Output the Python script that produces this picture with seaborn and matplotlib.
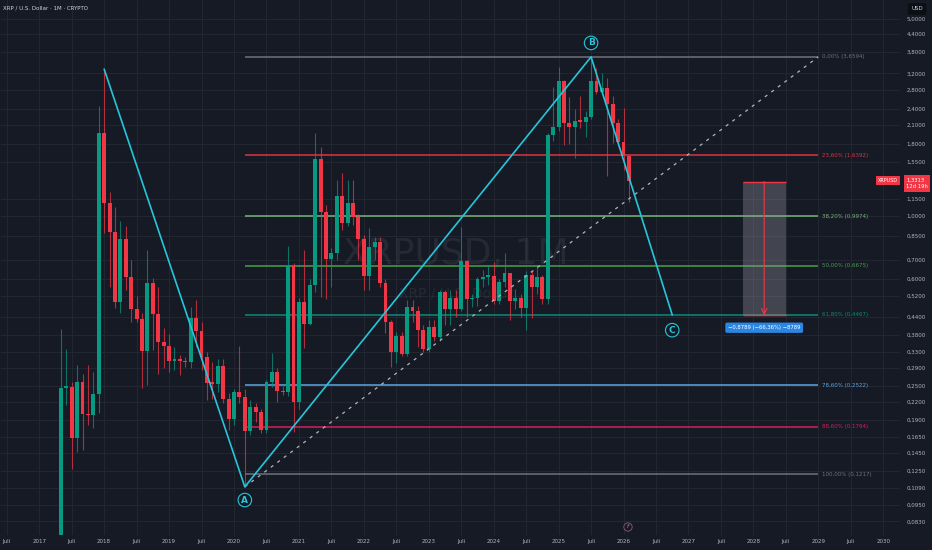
import matplotlib
matplotlib.use("Agg")
import matplotlib.pyplot as plt
from matplotlib.ticker import FixedLocator, FixedFormatter, NullLocator, NullFormatter
import numpy as np
import pandas as pd
import seaborn as sns

BG = "#161a25"
GRID = "#222631"
TXT = "#b2b5be"
UP = "#089981"
DOWN = "#f23645"
CYAN = "#26c6da"

# monthly XRP/USD candles, May 2017 .. Feb 2026
dates = pd.date_range("2017-05-01", "2026-02-01", freq="MS")
opens = [
    0.056, 0.247, 0.249, 0.164, 0.259, 0.199, 0.197, 0.234,
    1.97, 1.11, 0.880, 0.497, 0.829, 0.607, 0.467, 0.432, 0.334, 0.578, 0.449, 0.357,
    0.347, 0.307, 0.311, 0.307, 0.304, 0.437, 0.393, 0.318, 0.257, 0.255, 0.295, 0.226,
    0.192, 0.238, 0.228, 0.174, 0.211, 0.202, 0.175, 0.259, 0.280, 0.241, 0.238, 0.665,
    0.219, 0.495, 0.415, 0.570, 1.587, 1.036, 0.703, 0.742, 1.18, 0.947, 1.11, 0.990,
    0.827, 0.615, 0.779, 0.811, 0.580, 0.420, 0.329, 0.377, 0.325, 0.478, 0.462, 0.395,
    0.337, 0.404, 0.374, 0.537, 0.469, 0.514, 0.469, 0.695, 0.508, 0.514, 0.598, 0.610,
    0.615, 0.500, 0.583, 0.627, 0.500, 0.514, 0.473, 0.618, 0.562, 0.610, 0.507, 1.935,
    2.07, 3.01, 2.13, 2.07, 2.17, 2.16, 2.24, 3.01, 2.75, 2.83, 2.49, 2.14,
    1.83, 1.63,
]
highs = [
    0.397, 0.338, 0.259, 0.297, 0.277, 0.297, 0.280, 2.46,
    3.31, 1.22, 1.08, 0.960, 0.922, 0.699, 0.521, 0.452, 0.758, 0.602, 0.562, 0.400,
    0.381, 0.345, 0.322, 0.318, 0.478, 0.504, 0.420, 0.331, 0.305, 0.313, 0.313, 0.236,
    0.245, 0.347, 0.245, 0.223, 0.217, 0.207, 0.262, 0.327, 0.290, 0.250, 0.783, 0.680,
    0.512, 0.758, 0.600, 1.96, 1.76, 1.094, 0.770, 1.34, 1.42, 1.34, 1.34, 1.02,
    0.860, 0.905, 0.845, 0.845, 0.600, 0.430, 0.389, 0.390, 0.504, 0.504, 0.480, 0.410,
    0.428, 0.428, 0.547, 0.547, 0.547, 0.547, 0.917, 0.700, 0.530, 0.610, 0.644, 0.670,
    0.687, 0.600, 0.738, 0.630, 0.550, 0.530, 0.640, 0.640, 0.660, 0.620, 1.96, 2.87,
    3.38, 3.03, 2.64, 2.40, 2.65, 2.35, 3.66, 3.35, 3.20, 3.07, 2.65, 2.20,
    2.41, 1.65,
]
lows = [
    0.052, 0.214, 0.127, 0.146, 0.148, 0.182, 0.178, 0.200,
    0.868, 0.562, 0.471, 0.452, 0.547, 0.423, 0.423, 0.246, 0.252, 0.336, 0.277, 0.290,
    0.281, 0.285, 0.274, 0.293, 0.290, 0.345, 0.285, 0.223, 0.225, 0.239, 0.217, 0.175,
    0.182, 0.217, 0.110, 0.168, 0.187, 0.171, 0.171, 0.249, 0.220, 0.233, 0.230, 0.172,
    0.208, 0.340, 0.410, 0.540, 0.518, 0.510, 0.560, 0.700, 0.892, 0.920, 0.930, 0.700,
    0.547, 0.547, 0.700, 0.562, 0.384, 0.293, 0.302, 0.320, 0.320, 0.420, 0.345, 0.330,
    0.330, 0.360, 0.360, 0.412, 0.412, 0.440, 0.460, 0.440, 0.475, 0.480, 0.560, 0.570,
    0.490, 0.490, 0.560, 0.428, 0.470, 0.440, 0.395, 0.435, 0.530, 0.490, 0.490, 1.85,
    2.00, 1.78, 1.80, 1.61, 2.05, 1.90, 2.20, 2.70, 2.70, 1.38, 1.82, 1.77,
    1.45, 1.12,
]
closes = [
    0.247, 0.249, 0.164, 0.259, 0.199, 0.197, 0.234, 1.97,
    1.11, 0.880, 0.497, 0.829, 0.607, 0.467, 0.432, 0.334, 0.578, 0.449, 0.357, 0.347,
    0.307, 0.311, 0.307, 0.304, 0.437, 0.393, 0.318, 0.257, 0.255, 0.295, 0.226, 0.192,
    0.238, 0.228, 0.174, 0.211, 0.202, 0.175, 0.259, 0.280, 0.241, 0.238, 0.665, 0.219,
    0.495, 0.415, 0.570, 1.587, 1.036, 0.703, 0.742, 1.18, 0.947, 1.11, 0.990, 0.827,
    0.615, 0.779, 0.811, 0.580, 0.420, 0.329, 0.377, 0.325, 0.478, 0.462, 0.395, 0.337,
    0.404, 0.374, 0.537, 0.469, 0.514, 0.469, 0.695, 0.508, 0.514, 0.598, 0.610, 0.615,
    0.500, 0.583, 0.627, 0.500, 0.514, 0.473, 0.618, 0.562, 0.610, 0.507, 1.935, 2.07,
    3.01, 2.13, 2.07, 2.17, 2.16, 2.24, 3.01, 2.75, 2.83, 2.49, 2.14, 1.83,
    1.63, 1.3313,
]

# ABC wave drawing
wave_dates = ["2018-01-01", "2020-03-01", "2025-07-01", "2026-10-01"]
wave_prices = [3.31, 0.110, 3.6594, 0.4467]
wave_names = ["", "A", "B", "C"]

# fibonacci retracement (log)
fib_pcts = [0.0, 23.6, 38.2, 50.0, 61.8, 78.6, 88.6, 100.0]
fib_prices = [3.6594, 1.6392, 0.9974, 0.6675, 0.4467, 0.2522, 0.1794, 0.1217]
fib_colors = ["#787b86", "#f23645", "#81c784", "#4caf50", "#089981", "#64b5f6", "#e91e63", "#787b86"]
fib_span = ["2020-03-01", "2029-01-01"]
trend_prices = [0.110, 3.6594]

# price range projection
range_span = ["2027-11-01", "2028-07-01"]
range_top = 1.3244
range_bottom = 0.4455

price_ticks = [5.0, 4.4, 3.8, 3.2, 2.8, 2.4, 2.1, 1.8, 1.55, 1.15, 1.0, 0.85, 0.70, 0.60,
               0.52, 0.44, 0.38, 0.33, 0.29, 0.25, 0.22, 0.19, 0.165, 0.145, 0.125,
               0.109, 0.095, 0.083]


def mon(d):
    d = pd.Timestamp(d)
    return (d.year - 2017) * 12 + d.month - 1


sns.set_style("dark", {"axes.facecolor": BG, "figure.facecolor": BG, "grid.color": GRID})
plt.rcParams["font.family"] = ["DejaVu Sans"]

fig = plt.figure(figsize=(9.32, 5.5), dpi=100)
ax = fig.add_axes([0, 15 / 550, 900 / 932, 535 / 550])
ax.set_facecolor(BG)
ax.set_yscale("log")

# watermark
ax.text(0.507, 0.525, "XRPUSD, 1M", transform=ax.transAxes, ha="center", va="center",
        fontsize=26, color="#9598a1", alpha=0.12, zorder=1)
ax.text(0.507, 0.452, "XRP / U.S. Dollar", transform=ax.transAxes, ha="center", va="center",
        fontsize=10, color="#9598a1", alpha=0.12, zorder=1)

# fib levels
f0, f1 = mon(fib_span[0]), mon(fib_span[1])
ax.hlines(fib_prices, f0, f1, colors=fib_colors, lw=1.1, alpha=0.9, zorder=2)
for pct, pr, c in zip(fib_pcts, fib_prices, fib_colors):
    lab = f"{pct:.2f}% ({pr:.4f})".replace(".", ",")
    ax.annotate(lab, xy=(f1, pr), xytext=(2.5, 0), textcoords="offset points",
                va="center", ha="left", fontsize=4, color=c, alpha=0.9)

# candles
df = pd.DataFrame({"date": dates, "open": opens, "high": highs, "low": lows, "close": closes})
df["m"] = (df.date.dt.year - 2017) * 12 + df.date.dt.month - 1
cols = np.where(df.close >= df.open, UP, DOWN)
ax.vlines(df.m, df.low, df.high, colors=cols, lw=0.8, alpha=0.7, zorder=3)
lo = np.minimum(df.open, df.close)
hi = np.maximum(np.maximum(df.open, df.close), lo * 1.012)
ax.bar(df.m, hi - lo, bottom=lo, width=0.72, color=cols, lw=0, zorder=4)

# dashed trend of the fib tool
tr = pd.DataFrame({"m": [f0, f1], "p": trend_prices})
sns.lineplot(data=tr, x="m", y="p", ax=ax, color="#b2b5be", lw=0.9,
             linestyle=(0, (2.5, 4)), sort=False, estimator=None, zorder=5)

# ABC zigzag
wv = pd.DataFrame({"m": [mon(d) for d in wave_dates], "p": wave_prices})
sns.lineplot(data=wv, x="m", y="p", ax=ax, color=CYAN, lw=1.2, sort=False,
             estimator=None, zorder=6)
offs = {"A": -9.5, "B": 10, "C": -11}
for (m, p), name in zip(wv.values, wave_names):
    if not name:
        continue
    ax.annotate(name, xy=(m, p), xytext=(0, offs[name]), textcoords="offset points",
                ha="center", va="center", fontsize=6.5, color=CYAN, fontweight="bold",
                bbox=dict(boxstyle="circle,pad=0.25", fc=BG, ec=CYAN, lw=0.8), zorder=7)

# price range projection box
r0, r1 = mon(range_span[0]), mon(range_span[1])
rc = (r0 + r1) / 2
ax.fill_between([r0, r1], range_bottom, range_top, color="#9598a1", alpha=0.35, lw=0, zorder=5)
ax.hlines([range_top, range_bottom], r0, r1, colors=DOWN, lw=1.0, zorder=6)
ax.annotate("", xy=(rc, range_bottom), xytext=(rc, range_top),
            arrowprops=dict(arrowstyle="->", color=DOWN, lw=0.8, shrinkA=0, shrinkB=0), zorder=6)
d = range_bottom - range_top
rlab = f"{d:.4f} ({d / range_top * 100:.2f}%) {d * 10000:.0f}".replace(".", ",").replace("-", "\u2212")
ax.annotate(rlab, xy=(rc, range_bottom), xytext=(0, -9), textcoords="offset points",
            ha="center", va="center", fontsize=3.8, color="white",
            bbox=dict(boxstyle="round,pad=0.5,rounding_size=0.3", fc="#2b86e3", ec="none"), zorder=7)

# axes
ax.set_xlim(-7.25, 159.1)
ax.set_ylim(0.0743, 5.815)
ax.set_xlabel("")
ax.set_ylabel("")
ax.yaxis.tick_right()
ax.yaxis.set_major_locator(FixedLocator(price_ticks))
ax.yaxis.set_major_formatter(FixedFormatter([f"{v:.4f}".replace(".", ",") for v in price_ticks]))
ax.yaxis.set_minor_locator(NullLocator())
ax.yaxis.set_minor_formatter(NullFormatter())
xt = list(range(-6, 157, 6))
ax.xaxis.set_major_locator(FixedLocator(xt))
ax.xaxis.set_major_formatter(FixedFormatter([str(2017 + t // 12) if t % 12 == 0 else "Juli" for t in xt]))
ax.grid(True, which="major", color=GRID, lw=0.8)
ax.set_axisbelow(True)
for s in ax.spines.values():
    s.set_visible(False)
ax.tick_params(axis="both", colors=TXT, labelsize=4, length=0)
ax.tick_params(axis="y", pad=4.5)
ax.tick_params(axis="x", pad=3)

# current price marker
last = closes[-1]
ax.annotate(f"{last:.4f}".replace(".", ",") + "\n12d 19h", xy=(1.0, last),
            xycoords=("axes fraction", "data"), xytext=(4.5, 2.5), textcoords="offset points",
            ha="left", va="top", fontsize=3.8, color="white", linespacing=1.5,
            bbox=dict(boxstyle="square,pad=0.4", fc=DOWN, ec="none"), annotation_clip=False)
ax.annotate("XRPUSD", xy=(1.0, last), xycoords=("axes fraction", "data"), xytext=(-8.5, 0),
            textcoords="offset points", ha="center", va="center", fontsize=3.5, color="white",
            bbox=dict(boxstyle="square,pad=0.4", fc=DOWN, ec="none"), annotation_clip=False)

# event marker
ax.text(628 / 900, 8 / 535, "f", transform=ax.transAxes, ha="center", va="center",
        fontsize=4, style="italic", color="#c28ea0",
        bbox=dict(boxstyle="circle,pad=0.3", fc=BG, ec="#8a5a6a", lw=0.6))

fig.text(3 / 932, 1 - 8 / 550, "XRP / U.S. Dollar \u00b7 1M \u00b7 CRYPTO", fontsize=4,
         color="#d1d4dc", va="center", ha="left")
fig.text(917 / 932, 1 - 9 / 550, "USD", fontsize=4, color="#d1d4dc", ha="center", va="center",
         bbox=dict(boxstyle="round,pad=0.6,rounding_size=0.3", fc="#0c0e15", ec="none"))

fig.savefig("out.png", dpi=100, facecolor=BG)
